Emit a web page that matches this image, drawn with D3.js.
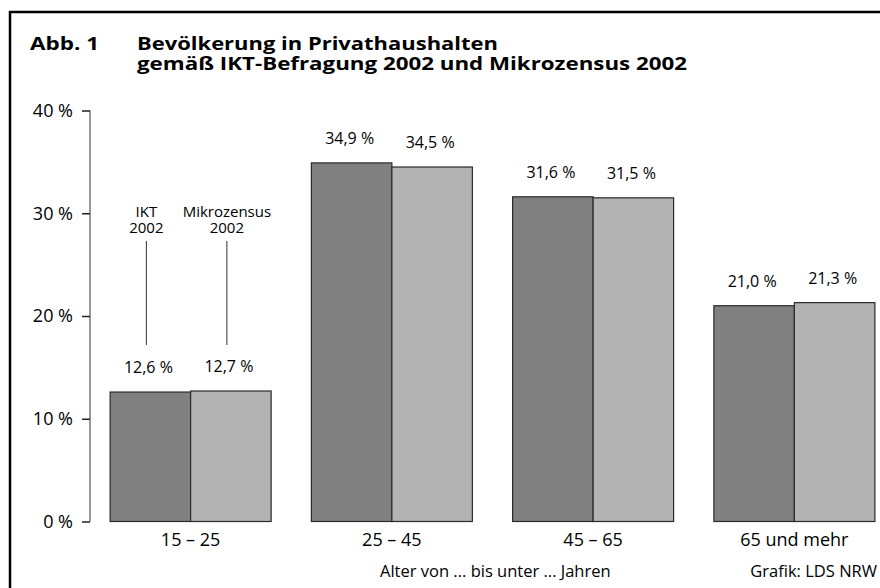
<!DOCTYPE html>
<html>
<head>
<meta charset="utf-8">
<script src="https://cdn.jsdelivr.net/npm/d3@7"></script>
<style>
  body { margin: 0; background: #fff; }
  svg { display: block; font-family: "Open Sans", "DejaVu Sans", sans-serif; }
</style>
</head>
<body>
<script>
// data
var ageGroups = ["15 – 25", "25 – 45", "45 – 65", "65 und mehr"];
var seriesNames = ["IKT 2002", "Mikrozensus 2002"];
var iktValues = [12.6, 34.9, 31.6, 21.0];
var mzValues = [12.7, 34.5, 31.5, 21.3];
var yTicks = [0, 10, 20, 30, 40];

var width = 880;
var height = 588;

var svg = d3.select("body")
    .append("svg")
    .attr("width", width)
    .attr("height", height);

// frame (only top and left edges are visible)
svg.append("path")
    .attr("d", "M10,600V12H900")
    .attr("fill", "none")
    .attr("stroke", "#000")
    .attr("stroke-width", 2.5);

// title, stretched to the widths of the original lines
var title = svg.append("g")
    .attr("font-weight", "bold")
    .attr("font-size", 18.5)
    .attr("fill", "#000");
title.append("text").attr("x", 30).attr("y", 50)
    .attr("textLength", 69).attr("lengthAdjust", "spacingAndGlyphs")
    .text("Abb. 1");
title.append("text").attr("x", 137).attr("y", 50)
    .attr("textLength", 361).attr("lengthAdjust", "spacingAndGlyphs")
    .text("Bevölkerung in Privathaushalten");
title.append("text").attr("x", 137).attr("y", 69.5)
    .attr("textLength", 550).attr("lengthAdjust", "spacingAndGlyphs")
    .text("gemäß IKT-Befragung 2002 und Mikrozensus 2002");

var axisX = 90;
var y = d3.scaleLinear()
    .domain([0, 40])
    .range([521.5, 110.5]);

var x0 = d3.scaleBand()
    .domain(ageGroups)
    .range([axisX, 895])
    .paddingInner(0.2)
    .paddingOuter(0.1);

var x1 = d3.scaleBand()
    .domain(seriesNames)
    .range([0, x0.bandwidth()]);

var colors = d3.scaleOrdinal()
    .domain(seriesNames)
    .range(["#808080", "#b3b3b3"]);

// y axis
var yAxis = svg.append("g")
    .attr("transform", "translate(" + axisX + ",0)")
    .call(d3.axisLeft(y)
        .tickValues(yTicks)
        .tickSize(8)
        .tickPadding(9)
        .tickFormat(function(d) { return d + " %"; }));
yAxis.select(".domain")
    .attr("d", "M0," + y(40) + "V" + y(0))
    .attr("stroke", "#777")
    .attr("stroke-width", 1.5);
yAxis.selectAll(".tick line").attr("stroke", "#222").attr("stroke-width", 1.5);
yAxis.selectAll(".tick text")
    .attr("font-size", 18)
    .attr("font-family", "Open Sans, sans-serif")
    .attr("fill", "#000");

// bars
var rows = ageGroups.map(function(g, i) {
    return { group: g, values: [
        { name: seriesNames[0], value: iktValues[i] },
        { name: seriesNames[1], value: mzValues[i] }
    ] };
});

var groups = svg.selectAll(".group")
    .data(rows)
    .enter()
    .append("g")
    .attr("class", "group")
    .attr("transform", function(d) { return "translate(" + x0(d.group) + ",0)"; });

groups.selectAll("rect")
    .data(function(d) { return d.values; })
    .enter()
    .append("rect")
    .attr("x", function(d) { return x1(d.name); })
    .attr("y", function(d) { return y(d.value); })
    .attr("width", x1.bandwidth())
    .attr("height", function(d) { return y(0) - y(d.value); })
    .attr("fill", function(d) { return colors(d.name); })
    .attr("stroke", "#2a2a2a")
    .attr("stroke-width", 1.2);

// value labels above bars
groups.selectAll(".val")
    .data(function(d) { return d.values; })
    .enter()
    .append("text")
    .attr("class", "val")
    .attr("x", function(d) { return x1(d.name) + x1.bandwidth() / 2 - 2; })
    .attr("y", function(d) { return y(d.value) - 19; })
    .attr("text-anchor", "middle")
    .attr("font-size", 16)
    .attr("fill", "#000")
    .text(function(d) { return d3.format(".1f")(d.value).replace(".", ",") + " %"; });

// category labels
svg.selectAll(".cat")
    .data(ageGroups)
    .enter()
    .append("text")
    .attr("class", "cat")
    .attr("x", function(d) { return x0(d) + x0.bandwidth() / 2; })
    .attr("y", 546)
    .attr("text-anchor", "middle")
    .attr("font-size", 18)
    .attr("fill", "#000")
    .text(function(d) { return d; });

// legend labels inside the first group, with leader lines
var first = x0(ageGroups[0]);
seriesNames.forEach(function(name) {
    var cx = first + x1(name) + x1.bandwidth() / 2 - 4;
    var parts = name.split(" ");
    var t = svg.append("text")
        .attr("x", cx)
        .attr("y", 217)
        .attr("text-anchor", "middle")
        .attr("font-size", 15)
        .attr("fill", "#000");
    parts.forEach(function(p, k) {
        t.append("tspan").attr("x", cx).attr("dy", k === 0 ? 0 : 16).text(p);
    });
    svg.append("line")
        .attr("x1", cx).attr("x2", cx)
        .attr("y1", 241).attr("y2", 345)
        .attr("stroke", "#333")
        .attr("stroke-width", 1);
});

// axis title and source
svg.append("text")
    .attr("x", 380)
    .attr("y", 577)
    .attr("font-size", 16.5)
    .attr("fill", "#000")
    .text("Alter von ... bis unter ... Jahren");

svg.append("text")
    .attr("x", 877)
    .attr("y", 577)
    .attr("text-anchor", "end")
    .attr("font-size", 16.5)
    .attr("fill", "#000")
    .text("Grafik: LDS NRW");
</script>
</body>
</html>
